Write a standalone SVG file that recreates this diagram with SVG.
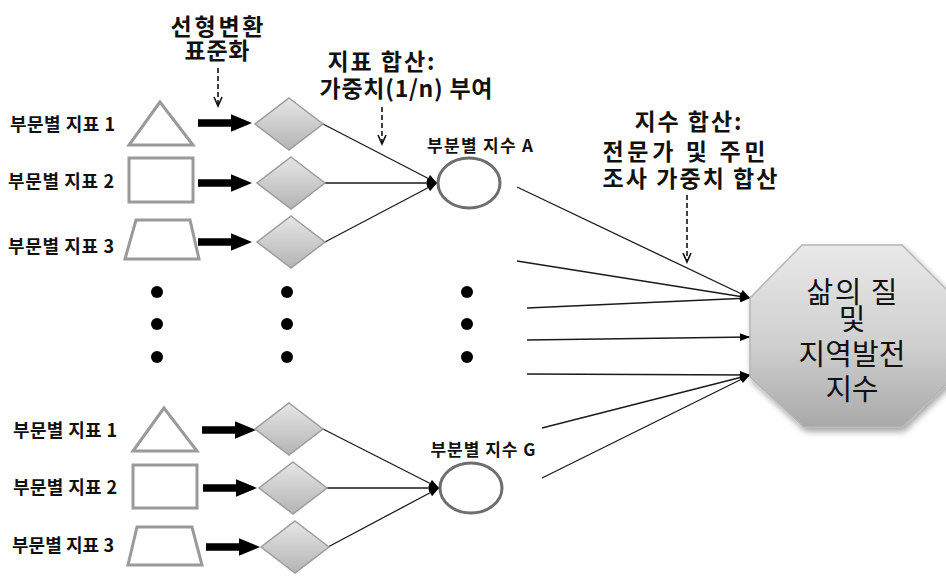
<svg xmlns="http://www.w3.org/2000/svg" xmlns:xlink="http://www.w3.org/1999/xlink" width="946" height="576" viewBox="0 0 946 576">
<defs>
<style>
.lbl{font-family:"Noto Sans CJK KR","Noto Sans",sans-serif;font-weight:bold;font-size:18px;fill:#111}
.sub{font-family:"Noto Sans CJK KR","Noto Sans",sans-serif;font-weight:bold;font-size:17px;fill:#111;text-anchor:middle}
.ttl{font-family:"Noto Sans CJK KR","Noto Sans",sans-serif;font-weight:bold;font-size:23px;fill:#111;text-anchor:middle}
.oct{font-family:"Noto Sans CJK KR","Noto Sans",sans-serif;font-size:29px;fill:#111;text-anchor:middle}
.shp{fill:#fff;stroke:#9a9a9a;stroke-width:3}
.dia{fill:url(#gdia);stroke:#9c9c9c;stroke-width:1.5}
.circ{fill:#fff;stroke:#6e6e6e;stroke-width:3}
.ln{stroke:#1a1a1a;stroke-width:1.3;fill:none;marker-end:url(#tip)}
.dash{stroke:#111;stroke-width:1.6;stroke-dasharray:5 3;fill:none;marker-end:url(#vtip)}
.dot{fill:#000}
</style>
<linearGradient id="gdia" x1="0" y1="0" x2="0" y2="1">
<stop offset="0" stop-color="#e6e6e6"/><stop offset="1" stop-color="#b4b4b4"/>
</linearGradient>
<linearGradient id="goct" x1="0" y1="0" x2="0" y2="1">
<stop offset="0" stop-color="#e9e9e9"/><stop offset="0.55" stop-color="#cfcfcf"/><stop offset="1" stop-color="#a9a9a9"/>
</linearGradient>
<filter id="shadow" x="-20%" y="-20%" width="140%" height="140%">
<feDropShadow dx="2" dy="4" stdDeviation="3" flood-color="#000" flood-opacity="0.35"/>
</filter>
<marker id="tip" viewBox="0 0 10 8" refX="10" refY="4" markerWidth="11" markerHeight="8" markerUnits="userSpaceOnUse" orient="auto">
<path d="M0,0 L10,4 L0,8 Z" fill="#000"/>
</marker>
<marker id="vtip" viewBox="-1 -1 12 10" refX="9" refY="4" markerWidth="12" markerHeight="10" markerUnits="userSpaceOnUse" orient="auto" overflow="visible">
<path d="M0,0 L9,4 L0,8" fill="none" stroke="#111" stroke-width="1.6"/>
</marker>
<path id="big" d="M0,-3.8 H33 V-8.8 L54,0 L33,8.8 V3.8 H0 Z" fill="#000"/>
</defs>
<rect width="946" height="576" fill="#fff"/>

<g id="titles">
<text class="ttl" x="217" y="35" textLength="93">선형변환</text>
<text class="ttl" x="217" y="59" textLength="65">표준화</text>
<text class="ttl" x="381" y="70" textLength="107">지표 합산:</text>
<text class="ttl" x="406" y="97" textLength="173">가중치(1/n) 부여</text>
<text class="ttl" x="688" y="130" textLength="107">지수 합산:</text>
<text class="ttl" x="684" y="160" textLength="163">전문가 및 주민</text>
<text class="ttl" x="690" y="187" textLength="175">조사 가중치 합산</text>
</g>

<g id="connectors">
<line class="dash" x1="218" y1="68" x2="218" y2="106"/>
<line class="dash" x1="382" y1="107" x2="382" y2="144"/>
<line class="dash" x1="687" y1="195" x2="687" y2="262"/>
<use xlink:href="#big" x="198" y="123"/>
<use xlink:href="#big" x="198" y="183"/>
<use xlink:href="#big" x="198" y="242"/>
<use xlink:href="#big" x="202" y="430"/>
<use xlink:href="#big" x="203" y="488"/>
<use xlink:href="#big" x="206" y="547"/>
<line class="ln" x1="323" y1="124" x2="437" y2="183"/>
<line class="ln" x1="325" y1="183" x2="437" y2="183"/>
<line class="ln" x1="325" y1="242" x2="437" y2="183"/>
<line class="ln" x1="323" y1="429" x2="439" y2="488"/>
<line class="ln" x1="327" y1="488" x2="439" y2="488"/>
<line class="ln" x1="328" y1="547" x2="439" y2="488"/>
<line class="ln" x1="517" y1="187" x2="750" y2="298"/>
<line class="ln" x1="517" y1="261" x2="750" y2="298"/>
<line class="ln" x1="527" y1="308" x2="750" y2="298"/>
<line class="ln" x1="527" y1="340" x2="750" y2="337"/>
<line class="ln" x1="527" y1="374" x2="750" y2="375"/>
<line class="ln" x1="542" y1="428" x2="750" y2="375"/>
<line class="ln" x1="542" y1="478" x2="750" y2="375"/>
</g>

<g id="src-top">
<text class="lbl" x="10" y="131" textLength="105">부문별 지표 1</text>
<text class="lbl" x="8" y="188" textLength="106">부문별 지표 2</text>
<text class="lbl" x="8" y="253" textLength="106">부문별 지표 3</text>
<polygon class="shp" points="160,102 129,145 193,145"/>
<rect class="shp" x="129" y="158" width="64" height="44"/>
<polygon class="shp" points="136,220 190,220 199,259 125,259"/>
</g>
<g id="src-bottom">
<text class="lbl" x="13" y="437" textLength="104">부문별 지표 1</text>
<text class="lbl" x="13" y="494" textLength="104">부문별 지표 2</text>
<text class="lbl" x="12" y="552" textLength="102">부문별 지표 3</text>
<polygon class="shp" points="164,408 133,451 197,451"/>
<rect class="shp" x="133" y="465" width="64" height="43"/>
<polygon class="shp" points="137,527 192,527 202,565 128,565"/>
</g>

<g id="std-top">
<polygon class="dia" points="289,98 323,124 289,150 255,124"/>
<polygon class="dia" points="291,157 325,183 291,209 257,183"/>
<polygon class="dia" points="291,216 325,242 291,268 257,242"/>
</g>
<g id="std-bottom">
<polygon class="dia" points="289,403 323,429 289,455 255,429"/>
<polygon class="dia" points="293,462 327,488 293,514 259,488"/>
<polygon class="dia" points="295,521 329,547 295,573 261,547"/>
</g>

<g id="dots">
<circle class="dot" cx="157" cy="292" r="6"/>
<circle class="dot" cx="157" cy="324" r="6"/>
<circle class="dot" cx="157" cy="357" r="6"/>
<circle class="dot" cx="287" cy="292" r="6"/>
<circle class="dot" cx="287" cy="324" r="6"/>
<circle class="dot" cx="287" cy="357" r="6"/>
<circle class="dot" cx="467" cy="292" r="6"/>
<circle class="dot" cx="467" cy="324" r="6"/>
<circle class="dot" cx="467" cy="357" r="6"/>
</g>

<g id="index-a">
<text class="sub" x="480" y="152" textLength="106">부분별 지수 A</text>
<ellipse class="circ" cx="469" cy="183" rx="31" ry="25"/>
</g>
<g id="index-g">
<text class="sub" x="483" y="456" textLength="105">부분별 지수 G</text>
<ellipse class="circ" cx="471" cy="488" rx="31" ry="25"/>
</g>

<g id="final">
<polygon points="802,245 902,245 954,297 954,377 902,427 804,427 750,377 750,298" fill="url(#goct)" stroke="#b5b5b5" stroke-width="1.5" filter="url(#shadow)"/>
<text class="oct" x="852" y="303" textLength="91">삶의 질</text>
<text class="oct" x="852" y="330">및</text>
<text class="oct" x="852" y="365" textLength="107">지역발전</text>
<text class="oct" x="852" y="400" textLength="53">지수</text>
</g>
</svg>
